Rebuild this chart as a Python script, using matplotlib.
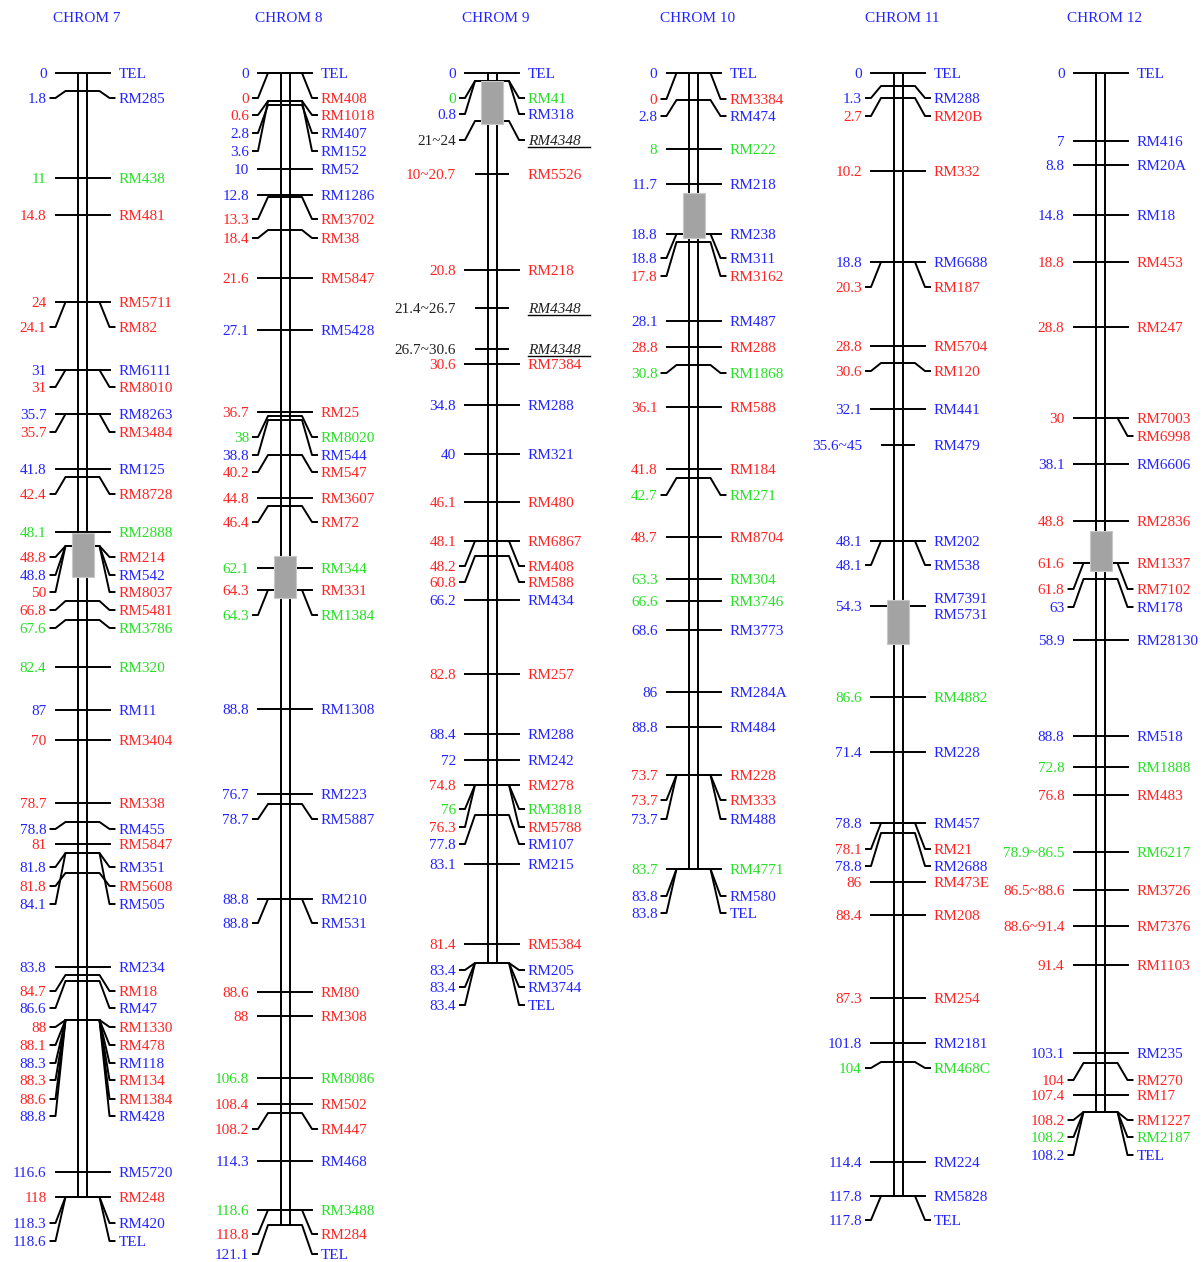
import matplotlib
matplotlib.use("Agg")
import matplotlib.pyplot as plt
from matplotlib.patches import Rectangle

plt.rcParams['font.family'] = ['Liberation Serif', 'DejaVu Serif']

# ---- data: map position labels, marker names, colour codes ----
c7_pos = ["0", "1.8", "11", "14.8", "24", "24.1", "31", "31", "35.7", "35.7",
          "41.8", "42.4", "48.1", "48.8", "48.8", "50", "66.8", "67.6", "82.4", "87",
          "70", "78.7", "78.8", "81", "81.8", "81.8", "84.1", "83.8", "84.7", "86.6",
          "88", "88.1", "88.3", "88.3", "88.6", "88.8", "116.6", "118", "118.3", "118.6"]
c7_mark = ["TEL", "RM285", "RM438", "RM481", "RM5711", "RM82", "RM6111", "RM8010", "RM8263", "RM3484",
           "RM125", "RM8728", "RM2888", "RM214", "RM542", "RM8037", "RM5481", "RM3786", "RM320", "RM11",
           "RM3404", "RM338", "RM455", "RM5847", "RM351", "RM5608", "RM505", "RM234", "RM18", "RM47",
           "RM1330", "RM478", "RM118", "RM134", "RM1384", "RM428", "RM5720", "RM248", "RM420", "TEL"]
c7_col = "b b g r r r b r b r b r g r b r r g g b r r b r b r b b r b r r b r r b b r b b".split()

c8_pos = ["0", "0", "0.6", "2.8", "3.6", "10", "12.8", "13.3", "18.4", "21.6",
          "27.1", "36.7", "38", "38.8", "40.2", "44.8", "46.4", "62.1", "64.3", "64.3",
          "88.8", "76.7", "78.7", "88.8", "88.8", "88.6", "88", "106.8", "108.4", "108.2",
          "114.3", "118.6", "118.8", "121.1"]
c8_mark = ["TEL", "RM408", "RM1018", "RM407", "RM152", "RM52", "RM1286", "RM3702", "RM38", "RM5847",
           "RM5428", "RM25", "RM8020", "RM544", "RM547", "RM3607", "RM72", "RM344", "RM331", "RM1384",
           "RM1308", "RM223", "RM5887", "RM210", "RM531", "RM80", "RM308", "RM8086", "RM502", "RM447",
           "RM468", "RM3488", "RM284", "TEL"]
c8_col = "b r r b b b b r r r b r g b r r r g r g b b b b b r r g r r b g r b".split()

c9_pos = ["0", "0", "0.8", "21~24", "10~20.7", "20.8", "21.4~26.7", "26.7~30.6", "30.6", "34.8",
          "40", "46.1", "48.1", "48.2", "60.8", "66.2", "82.8", "88.4", "72", "74.8",
          "76", "76.3", "77.8", "83.1", "81.4", "83.4", "83.4", "83.4"]
c9_mark = ["TEL", "RM41", "RM318", "RM4348", "RM5526", "RM218", "RM4348", "RM4348", "RM7384", "RM288",
           "RM321", "RM480", "RM6867", "RM408", "RM588", "RM434", "RM257", "RM288", "RM242", "RM278",
           "RM3818", "RM5788", "RM107", "RM215", "RM5384", "RM205", "RM3744", "TEL"]
c9_col = "b g b k r r k k r b b r r r r b r b b r g r b b r b b b".split()

c10_pos = ["0", "0", "2.8", "8", "11.7", "18.8", "18.8", "17.8", "28.1", "28.8",
           "30.8", "36.1", "41.8", "42.7", "48.7", "63.3", "66.6", "68.6", "86", "88.8",
           "73.7", "73.7", "73.7", "83.7", "83.8", "83.8"]
c10_mark = ["TEL", "RM3384", "RM474", "RM222", "RM218", "RM238", "RM311", "RM3162", "RM487", "RM288",
            "RM1868", "RM588", "RM184", "RM271", "RM8704", "RM304", "RM3746", "RM3773", "RM284A", "RM484",
            "RM228", "RM333", "RM488", "RM4771", "RM580", "TEL"]
c10_col = "b r b g b b b r b r g r r g r g g b b b r r b g b b".split()

c11_pos = ["0", "1.3", "2.7", "10.2", "18.8", "20.3", "28.8", "30.6", "32.1", "35.6~45",
           "48.1", "48.1", "54.3", "86.6", "71.4", "78.8", "78.1", "78.8", "86", "88.4",
           "87.3", "101.8", "104", "114.4", "117.8", "117.8"]
c11_mark = ["TEL", "RM288", "RM20B", "RM332", "RM6688", "RM187", "RM5704", "RM120", "RM441", "RM479",
            "RM202", "RM538", "RM7391\nRM5731", "RM4882", "RM228", "RM457", "RM21", "RM2688", "RM473E", "RM208",
            "RM254", "RM2181", "RM468C", "RM224", "RM5828", "TEL"]
c11_col = "b b r r b r r r b b b b b g b b r b r r r b g b b b".split()

c12_pos = ["0", "7", "8.8", "14.8", "18.8", "28.8", "30", "", "38.1", "48.8",
           "61.6", "61.8", "63", "58.9", "88.8", "72.8", "76.8", "78.9~86.5", "86.5~88.6", "88.6~91.4",
           "91.4", "103.1", "104", "107.4", "108.2", "108.2", "108.2"]
c12_mark = ["TEL", "RM416", "RM20A", "RM18", "RM453", "RM247", "RM7003", "RM6998", "RM6606", "RM2836",
            "RM1337", "RM7102", "RM178", "RM28130", "RM518", "RM1888", "RM483", "RM6217", "RM3726", "RM7376",
            "RM1103", "RM235", "RM270", "RM17", "RM1227", "RM2187", "TEL"]
c12_col = "b b b b r r r r b r r r b b b g r g r r r b r r r g b".split()

# ---- layout (in image pixels): tick rows and label rows ----
c7_tick = [73, 91, 178, 215, 302, 302, 370, 370, 414, 414, 469, 477, 532, 546, 546, 546, 601, 620, 667, 710,
           740, 803, 822, 844, 853, 873, 853, 967, 975, 981, 1020, 1020, 1020, 1020, 1020, 1020, 1172, 1197, 1197, 1197]
c7_lab = [73, 98, 178, 215, 302, 327, 370, 387, 414, 432, 469, 494, 532, 557, 575, 592, 610, 628, 667, 710,
          740, 803, 829, 844, 867, 886, 904, 967, 991, 1008, 1027, 1045, 1063, 1080, 1099, 1116, 1172, 1197, 1223, 1241]
c8_tick = [73, 73, 101, 105, 101, 169, 195, 197, 230, 278, 330, 412, 416, 420, 455, 498, 506, 568, 590, 590,
           709, 794, 804, 899, 899, 992, 1016, 1078, 1104, 1113, 1161, 1210, 1210, 1225]
c8_lab = [73, 98, 115, 133, 151, 169, 195, 219, 238, 278, 330, 412, 437, 455, 472, 498, 522, 568, 590, 615,
          709, 794, 819, 899, 923, 992, 1016, 1078, 1104, 1129, 1161, 1210, 1234, 1254]
c9_tick = [73, 81, 81, 121, 174, 270, 308, 349, 364, 405, 454, 502, 541, 541, 556, 600, 674, 734, 760, 785,
           785, 785, 815, 864, 944, 963, 963, 963]
c9_lab = [73, 98, 114, 140, 174, 270, 308, 349, 364, 405, 454, 502, 541, 566, 582, 600, 674, 734, 760, 785,
          809, 827, 844, 864, 944, 970, 987, 1005]
c10_tick = [73, 73, 100, 149, 184, 234, 234, 242, 321, 347, 365, 407, 469, 478, 537, 579, 601, 630, 692, 727,
            775, 775, 775, 869, 869, 869]
c10_lab = [73, 99, 116, 149, 184, 234, 258, 276, 321, 347, 373, 407, 469, 495, 537, 579, 601, 630, 692, 727,
           775, 800, 819, 869, 896, 913]
c11_tick = [73, 86, 98, 171, 262, 262, 346, 363, 409, 445, 541, 541, 606, 697, 752, 823, 823, 833, 882, 915,
            998, 1043, 1062, 1162, 1196, 1196]
c11_lab = [73, 98, 116, 171, 262, 287, 346, 371, 409, 445, 541, 565, 606, 697, 752, 823, 849, 866, 882, 915,
           998, 1043, 1068, 1162, 1196, 1220]
c12_tick = [73, 141, 165, 215, 262, 327, 418, 418, 464, 521, 563, 563, 579, 640, 736, 767, 795, 852, 890, 926,
            965, 1053, 1063, 1095, 1112, 1112, 1112]
c12_lab = [73, 141, 165, 215, 262, 327, 418, 436, 464, 521, 563, 589, 607, 640, 736, 767, 795, 852, 890, 926,
           965, 1053, 1080, 1095, 1120, 1137, 1155]

chroms = [
    ("CHROM 7", 82.5, c7_pos, c7_mark, c7_col, c7_tick, c7_lab, [], (533, 577)),
    ("CHROM 8", 285, c8_pos, c8_mark, c8_col, c8_tick, c8_lab, [], (556, 598)),
    ("CHROM 9", 492, c9_pos, c9_mark, c9_col, c9_tick, c9_lab, [4, 6, 7], (81, 124)),
    ("CHROM 10", 693.5, c10_pos, c10_mark, c10_col, c10_tick, c10_lab, [], (193, 238)),
    ("CHROM 11", 898, c11_pos, c11_mark, c11_col, c11_tick, c11_lab, [9], (600, 644)),
    ("CHROM 12", 1100.5, c12_pos, c12_mark, c12_col, c12_tick, c12_lab, [], (531, 571)),
]

colors = {"r": "#ff2424", "b": "#2424ff", "g": "#26e026", "k": "#222222"}
lw = 1.4
fs = 11
dy = 1.5  # nudge text down so it sits centred on its line

fig = plt.figure(figsize=(12.03, 12.62), dpi=100)
ax = fig.add_axes([0, 0, 1, 1])
ax.set_xlim(0, 1203)
ax.set_ylim(1262, 0)
ax.axis("off")

for title, cx, pos, mark, col, tick, lab, short, cen in chroms:
    ax.text(cx + 4, 19, title, color=colors["b"], fontsize=fs, ha="center", va="center")
    # double line of the chromosome
    for dx in (-4.5, 4.5):
        ax.plot([cx + dx, cx + dx], [tick[0], tick[-1]], color="black", lw=lw, zorder=2)
    for i in range(len(mark)):
        yt, yl = tick[i], lab[i]
        c = colors[col[i]]
        if yt == yl:
            half = 16 if i in short else 27
            ax.plot([cx - half, cx + half], [yt, yt], color="black", lw=lw, zorder=2)
        else:
            if pos[i] != "":
                ax.plot([cx - 32, cx - 27, cx - 17, cx + 17, cx + 27, cx + 32],
                        [yl, yl, yt, yt, yl, yl], color="black", lw=lw, zorder=2)
            else:
                ax.plot([cx + 17, cx + 27, cx + 32], [yt, yl, yl], color="black", lw=lw, zorder=2)
        if pos[i]:
            ax.text(cx - 36, yl + dy, pos[i], color=c, fontsize=fs, ha="right", va="center")
        italic = col[i] == "k"
        ax.text(cx + 36, yl + dy, mark[i], color=c, fontsize=fs, ha="left", va="center",
                style="italic" if italic else "normal", linespacing=1.25)
        if italic:
            ax.plot([cx + 36, cx + 98], [yl + 7, yl + 7], color="black", lw=1.0, zorder=2)
    # centromere
    ax.add_patch(Rectangle((cx - 11, cen[0]), 22, cen[1] - cen[0], facecolor="#a3a3a3",
                           edgecolor="#c8c8c8", lw=0.8, zorder=3))

fig.savefig("out.png", dpi=100)
